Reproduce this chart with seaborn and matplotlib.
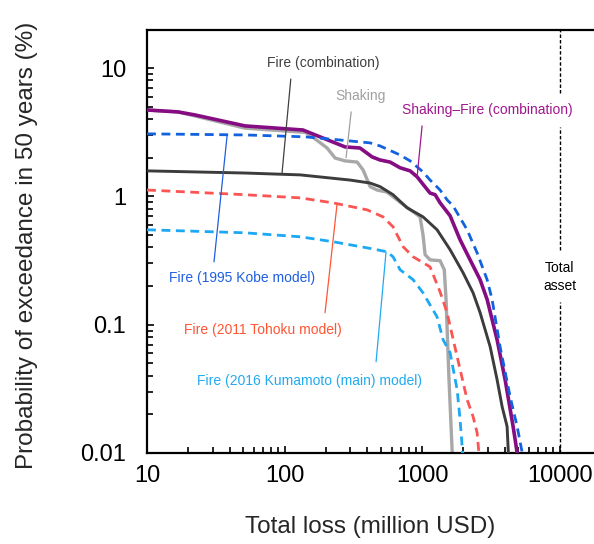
import matplotlib
matplotlib.use("Agg")
import matplotlib.pyplot as plt
from matplotlib.ticker import FuncFormatter, NullFormatter, LogLocator
import seaborn as sns
import pandas as pd

# Loss-exceedance curves: total loss (million USD) vs probability of exceedance in 50 years (%)
loss_shaking_fire = [10, 16.8, 22.3, 51.6, 136, 181, 275, 354, 433, 495, 585, 692, 818, 920,
                     1143, 1244, 1352, 1598, 1889, 2234, 2642, 2972, 3510, 4015, 4590, 4950]
prob_shaking_fire = [4.71, 4.55, 4.31, 3.54, 3.29, 2.91, 2.43, 2.38, 2.03, 1.92, 1.85, 1.67, 1.58, 1.42,
                     1.06, 1.03, 0.89, 0.706, 0.459, 0.32, 0.224, 0.157, 0.0764, 0.0373, 0.0161, 0.0095]

loss_shaking = [10, 16.8, 22.3, 51.6, 141, 153, 204, 233, 275, 337, 372, 419, 471, 556, 692,
                967, 1016, 1052, 1143, 1352, 1450, 1494, 1570, 1660]
prob_shaking = [4.71, 4.55, 4.23, 3.40, 3.15, 3.01, 2.38, 1.99, 1.89, 1.85, 1.61, 1.19, 1.12, 1.08, 0.90,
                0.692, 0.50, 0.351, 0.32, 0.315, 0.268, 0.157, 0.037, 0.0095]

loss_fire = [10, 51.6, 130, 299, 419, 495, 615, 778, 1016, 1285, 1598, 1986, 2349, 2642,
             3125, 3510, 3818, 4150, 4250]
prob_fire = [1.58, 1.52, 1.47, 1.34, 1.27, 1.19, 1.03, 0.814, 0.692, 0.549, 0.384, 0.254, 0.177, 0.124,
             0.0674, 0.0373, 0.023, 0.0161, 0.0095]

loss_kobe = [10, 51.6, 141, 253, 419, 495, 692, 818, 1016, 1143, 1352, 1519, 1680, 2125, 2512,
             2972, 3230, 3690, 4365, 4910, 5400]
prob_kobe = [3.07, 3.01, 2.91, 2.75, 2.61, 2.47, 2.1, 1.89, 1.55, 1.34, 1.12, 0.94, 0.843, 0.549, 0.363,
             0.224, 0.157, 0.0674, 0.0275, 0.0161, 0.0095]

loss_tohoku = [10, 51.6, 130, 225, 398, 520, 615, 728, 861, 1143, 1352, 1519, 1798, 2125, 2349, 2512, 2600]
prob_tohoku = [1.12, 1.03, 0.973, 0.89, 0.785, 0.692, 0.579, 0.405, 0.338, 0.282, 0.18, 0.124, 0.0564,
               0.0261, 0.0192, 0.0144, 0.0095]

loss_kumamoto = [10, 51.6, 130, 225, 398, 556, 615, 692, 861, 1016, 1285, 1421, 1598, 1798, 1889, 1980]
prob_kumamoto = [0.549, 0.52, 0.484, 0.443, 0.397, 0.37, 0.338, 0.268, 0.224, 0.177, 0.115, 0.0764,
                 0.0605, 0.0312, 0.0182, 0.0095]

total_asset = 10000
x_ticks = [10, 100, 1000, 10000]
y_ticks = [0.01, 0.1, 1, 10]

sns.set_style("ticks")
plt.rcParams["font.family"] = ["Liberation Sans", "DejaVu Sans"]

fig = plt.figure(figsize=(5.94, 5.44), dpi=100)
ax = fig.add_axes([0.2475, 0.1673, 0.7525, 0.7776])
ax.set_xscale("log")
ax.set_yscale("log")

def curve(x, y, color, lw, dashed=False, z=2):
    df = pd.DataFrame({"loss": x, "prob": y})
    kw = dict(color=color, lw=lw, zorder=z, solid_joinstyle="round", solid_capstyle="butt")
    if dashed:
        kw["linestyle"] = (0, (3.2, 2.0))
        kw["dash_capstyle"] = "butt"
    sns.lineplot(data=df, x="loss", y="prob", ax=ax, sort=False, estimator=None, **kw)

curve(loss_shaking, prob_shaking, "#A8A8A8", 2.4, z=2)
curve(loss_fire, prob_fire, "#3C3C3C", 2.1, z=3)
curve(loss_tohoku, prob_tohoku, "#FA5552", 2.0, dashed=True, z=4)
curve(loss_kumamoto, prob_kumamoto, "#1CA8F2", 2.0, dashed=True, z=4)
curve(loss_shaking_fire, prob_shaking_fire, "#850C82", 2.6, z=5)
curve(loss_kobe, prob_kobe, "#1262DE", 2.0, dashed=True, z=6)

ax.set_xlim(10, 10 ** 4.25)
ax.set_ylim(0.01, 19.8)

# Total asset marker, broken where the labels sit
ax.vlines([total_asset] * 3, [6.4, 0.384, 0.01], [19.8, 3.47, 0.151],
          color="black", lw=1.0, linestyle=(0, (2.5, 1.5)), zorder=1)

ax.set_xticks(x_ticks)
ax.set_yticks(y_ticks)
fmt = FuncFormatter(lambda v, p: f"{v:g}")
ax.xaxis.set_major_formatter(fmt)
ax.yaxis.set_major_formatter(fmt)
ax.xaxis.set_minor_locator(LogLocator(base=10, subs=range(2, 10), numticks=20))
ax.yaxis.set_minor_locator(LogLocator(base=10, subs=range(2, 10), numticks=20))
ax.xaxis.set_minor_formatter(NullFormatter())
ax.yaxis.set_minor_formatter(NullFormatter())

ax.tick_params(which="both", direction="in", width=1.2, colors="black", labelsize=17)
ax.tick_params(which="major", length=5)
ax.tick_params(which="minor", length=4)
ax.tick_params(axis="x", which="major", pad=9)
ax.tick_params(axis="y", which="major", pad=15)

for s in ["left", "bottom", "top"]:
    ax.spines[s].set_linewidth(1.6)
    ax.spines[s].set_color("black")
ax.spines["right"].set_visible(False)

ax.set_xlabel("Total loss (million USD)", fontsize=17.5)
ax.set_ylabel("Probability of exceedance in 50 years (%)", fontsize=17.5)
ax.xaxis.set_label_coords(0.5, -0.15)
ax.yaxis.set_label_coords(-0.245, 0.49)

def label(text, tx, ty, color, line_from, line_to):
    ax.annotate("", xy=line_to, xytext=line_from,
                arrowprops=dict(arrowstyle="-", color=color, lw=0.9, shrinkA=0, shrinkB=0),
                zorder=7)
    ax.text(tx, ty, text, color=color, fontsize=10, ha="center", va="center", zorder=8)

label("Fire (combination)", 190, 10.9, "#404040", (111, 8.2), (95.9, 1.52))
label("Shaking", 354, 6.05, "#A0A0A0", (305, 4.55), (280, 2.0))
label("Shaking\u2013Fire (combination)", 2972, 4.71, "#A0168F", (1000, 3.54), (920, 1.42))
label("Fire (1995 Kobe model)", 49.1, 0.232, "#1F5FE0", (38.2, 2.96), (30.7, 0.309))
label("Fire (2011 Tohoku model)", 69.8, 0.0914, "#FF5533", (241, 0.875), (197, 0.124))
label("Fire (2016 Kumamoto (main) model)", 151, 0.0366, "#22AAF0", (547, 0.37), (463, 0.0515))

ax.text(total_asset, 0.237, "Total\nasset", color="black", fontsize=10,
        ha="center", va="center", linespacing=1.35, zorder=8)

fig.savefig("out.png", dpi=100)
